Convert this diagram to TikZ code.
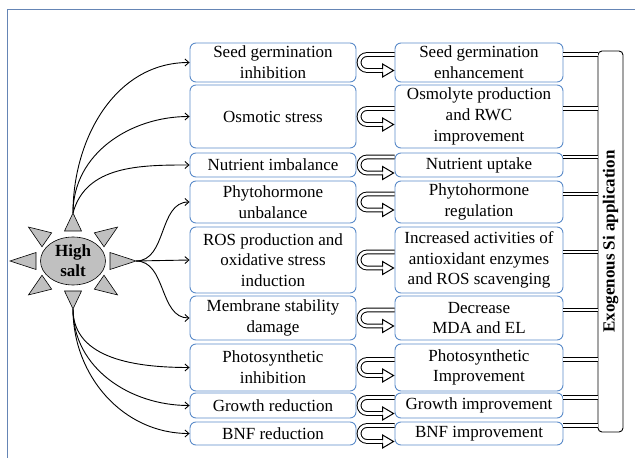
\documentclass[tikz,border=0pt]{standalone}
\usepackage{fontspec}
\setmainfont{Liberation Serif}
\usepackage{tikz}
\usetikzlibrary{calc,arrows.meta,positioning,shapes.geometric}
\definecolor{boxblue}{HTML}{5B8BC9}
\definecolor{frameblue}{HTML}{6585B5}
\definecolor{saltgray}{HTML}{C0C0C0}

\begin{document}
\begin{tikzpicture}[x=1pt,y=1pt,
  txt/.style={font=\rmfamily\fontsize{17}{20.8}\selectfont, align=center},
  effect/.style={txt, draw=boxblue, line width=0.9pt, rounded corners=6pt, minimum width=166pt, inner sep=0.5pt},
  remedy/.style={effect, minimum width=168pt},
  hit/.style={-{Straight Barb[length=4pt,width=7pt]}, line width=0.9pt},
  sil/.style={double, double distance=2.8pt, line width=1pt},
  ray/.style={draw, fill=saltgray, line width=0.6pt, line join=miter}]
\useasboundingbox (0,0) rectangle (635,458);
\draw[frameblue, line width=1pt] (7,-5) -- (7,448) -- (640,448);

% salt stress effects
\node[effect, minimum height=39pt] (c1) at (273,395.5) {Seed germination\\inhibition};
\node[effect, minimum height=63pt] (c2) at (273,341.5) {Osmotic stress};
\node[effect, minimum height=24pt] (c3) at (273,293) {Nutrient imbalance};
\node[effect, minimum height=42pt] (c4) at (273,256) {Phytohormone\\unbalance};
\node[effect, minimum height=66pt] (c5) at (273,198) {ROS production and\\oxidative stress\\induction};
\node[effect, minimum height=44pt] (c6) at (273,140) {Membrane stability\\damage};
\node[effect, minimum height=47pt] (c7) at (273,90.5) {Photosynthetic\\inhibition};
\node[effect, minimum height=25pt] (c8) at (273,52.5) {Growth reduction};
\node[effect, minimum height=23pt] (c9) at (273,24.5) {BNF reduction};

% Si effects
\node[remedy, minimum height=39pt] (r1) at (479,395.5) {Seed germination\\enhancement};
\node[remedy, minimum height=63pt] (r2) at (479,341.5) {Osmolyte production\\and RWC\\improvement};
\node[remedy, minimum height=24pt] (r3) at (479,293) {Nutrient uptake};
\node[remedy, minimum height=42pt] (r4) at (479,256) {Phytohormone\\regulation};
\node[remedy, minimum height=66pt] (r5) at (479,198) {Increased activities of\\antioxidant enzymes\\and ROS scavenging};
\node[remedy, minimum height=44pt] (r6) at (479,140) {Decrease\\MDA and EL};
\node[remedy, minimum height=47pt] (r7) at (479,90.5) {Photosynthetic\\Improvement};
\node[remedy, minimum height=25pt] (r8) at (479,52.5) {Growth improvement};
\node[remedy, minimum height=23pt] (r9) at (479,24.5) {BNF improvement};

\node[draw, line width=0.9pt, rounded corners=4pt, minimum width=25pt, minimum height=381pt, inner sep=0pt] (si) at (610.5,216.5) {};
\node[txt, font=\rmfamily\fontsize{17}{20.8}\selectfont\bfseries, rotate=90] at (si) {Exogenous Si application};

% the sun
\node[ellipse, draw, fill=saltgray, line width=0.6pt, minimum width=65pt, minimum height=48pt, inner sep=0pt,
  font=\rmfamily\fontsize{17}{20}\selectfont\bfseries, align=center] (sun) at (73,197) {High\\salt};
\foreach \a in {0,45,...,315}{
  \coordinate (base\a) at ($(sun)+(\a:37pt and 30pt)$);
  \coordinate (tip\a) at ($(sun)+(\a:63pt and 48pt)$);
  \draw[ray] (tip\a) -- ($(base\a)!8.5pt!90:(tip\a)$) -- ($(base\a)!8.5pt!-90:(tip\a)$) -- cycle;
}

\draw[hit] (tip90) to[out=90,in=180] (c1.west);
\draw[hit] (tip90) to[out=90,in=180] (c2.west);
\draw[hit] (tip90) to[out=75,in=180] (c3.west);
\draw[hit] (tip0) to[out=0,in=180] (c4.west);
\draw[hit] (tip0) -- (c5.west);
\draw[hit] (tip0) to[out=0,in=180] (c6.west);
\draw[hit] (tip270) to[out=-90,in=180] (c7.west);
\draw[hit] (tip270) to[out=-90,in=180] (c8.west);
\draw[hit] (tip270) to[out=-90,in=180] (c9.west);

% u-turns and Si links
\foreach \i in {1,...,9}{
  \coordinate (o\i) at ([yshift=8pt]r\i.east);
  \draw[sil] (o\i) -- (o\i -| si.west);
  \draw[sil] ([yshift=8pt]r\i.west) -- ++(-27.5pt,0) arc[start angle=90,end angle=270,radius=8pt] -- ++(15.5pt,0) coordinate (u\i);
  \fill[white] (u\i) ++(0,6.5pt) -- ++(11pt,-6.5pt) -- ++(-11pt,-6.5pt) -- cycle;
  \draw[line width=1pt] ($(u\i)+(0,1.4pt)$) -- ++(0,5.1pt) -- ++(11pt,-6.5pt) -- ++(-11pt,-6.5pt) -- ++(0,5.1pt);
}
\end{tikzpicture}
\end{document}
